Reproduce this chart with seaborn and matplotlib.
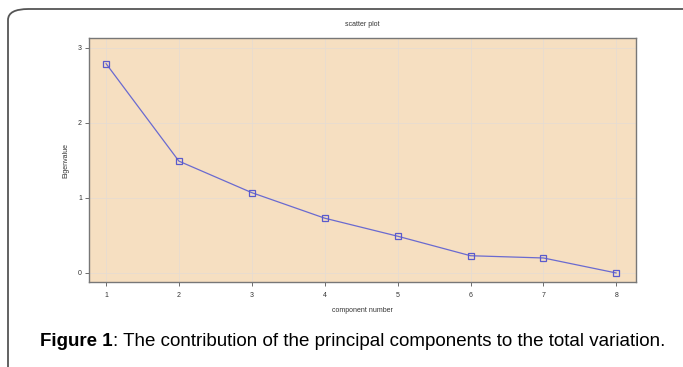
import pandas as pd
import seaborn as sns
import matplotlib.pyplot as plt
from matplotlib.patches import FancyBboxPatch

# scree plot values
components = [1, 2, 3, 4, 5, 6, 7, 8]
eigenvalues = [2.79, 1.49, 1.07, 0.73, 0.49, 0.23, 0.20, 0.00]
x_ticks = [1, 2, 3, 4, 5, 6, 7, 8]
y_ticks = [0, 1, 2, 3]

data = pd.DataFrame({'component': components, 'eigenvalue': eigenvalues})

sns.set_style('white')
plt.rcParams['font.family'] = ['Liberation Sans', 'DejaVu Sans']

W, H = 683, 367
fig = plt.figure(figsize=(W / 100, H / 100), dpi=100)
ax = fig.add_axes([89 / W, 1 - 282 / H, (636 - 89) / W, (282 - 38) / H])

# outer rounded frame
frame = FancyBboxPatch((8 / W, -0.2), 1.1, 1 - 9 / H + 0.2,
                       boxstyle='round,pad=0,rounding_size=0.03',
                       transform=fig.transFigure, fill=False,
                       edgecolor='#555555', linewidth=1.3, clip_on=False)
fig.patches.append(frame)

ax.set_facecolor('#F6DFC1')
sns.lineplot(data=data, x='component', y='eigenvalue', ax=ax,
             color='#6A6AD0', linewidth=0.9, marker='s', markersize=4,
             markerfacecolor='none', markeredgecolor='#5A5ACC',
             markeredgewidth=0.9)

ax.set_xlim(0.767, 8.27)
ax.set_ylim(-0.12, 3.13)
ax.set_xticks(x_ticks)
ax.set_yticks(y_ticks)
ax.grid(True, color='#E4DCD4', linewidth=0.5)
for s in ax.spines.values():
    s.set_color('#777777')
    s.set_linewidth(1.0)
ax.tick_params(axis='both', bottom=True, left=True, direction='out', length=3,
               width=0.6, color='#555555', labelsize=5, labelcolor='#333333', pad=2)
ax.tick_params(axis='x', pad=4)
ax.set_xlabel('component number', fontsize=5, color='#333333', labelpad=6)
ax.set_ylabel('Eigenvalue', fontsize=5, color='#333333', labelpad=6)
ax.set_title('scatter plot', fontsize=5, color='#333333', pad=9)

# caption with bold "Figure 1"
cy = 1 - 341 / H
t1 = fig.text(40 / W, cy, 'Figure 1', fontsize=13.5, fontweight='bold',
              va='center', ha='left', color='black')
fig.canvas.draw()
bb = t1.get_window_extent()
fig.text(bb.x1 / W, cy,
         ': The contribution of the principal components to the total variation.',
         fontsize=13.5, va='center', ha='left', color='black')

plt.savefig('out.png', dpi=100)
plt.close()
